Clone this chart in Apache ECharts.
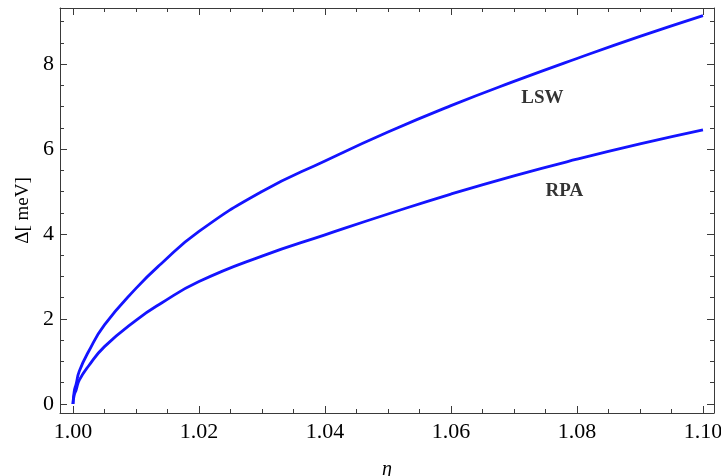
<!DOCTYPE html>
<html>
<head>
<meta charset="utf-8">
<script src="https://cdn.jsdelivr.net/npm/echarts@6/dist/echarts.min.js"></script>
<style>
html,body{margin:0;padding:0;background:#fff;}
#chart{width:721px;height:476px;}
</style>
</head>
<body>
<div id="chart"></div>
<script>
// ---- data ----
var eta = [1.0000, 1.0002, 1.0005, 1.0010, 1.0025, 1.0050, 1.0100, 1.0140, 1.0200, 1.0300, 1.0400, 1.0500, 1.0600, 1.0700, 1.0800, 1.0900, 1.1000];
var lsw = [0.00, 0.30, 0.47, 0.77, 1.24, 1.86, 2.72, 3.30, 4.06, 5.00, 5.72, 6.40, 7.02, 7.59, 8.13, 8.65, 9.14];
var rpa = [0.00, 0.21, 0.33, 0.56, 0.90, 1.35, 1.97, 2.37, 2.88, 3.48, 3.98, 4.47, 4.94, 5.37, 5.76, 6.12, 6.45];
var xMajorTicks = [1.00, 1.02, 1.04, 1.06, 1.08, 1.10];
var xMinorTicks = [1.005, 1.010, 1.015, 1.025, 1.030, 1.035, 1.045, 1.050, 1.055, 1.065, 1.070, 1.075, 1.085, 1.090, 1.095];
var yMajorTicks = [0, 2, 4, 6, 8];
var yMinorTicks = [0.5, 1, 1.5, 2.5, 3, 3.5, 4.5, 5, 5.5, 6.5, 7, 7.5, 8.5, 9];
var curveNames = ['LSW', 'RPA'];
var labelPoints = [[1.0745, 7.20, 'LSW'], [1.0780, 5.00, 'RPA']];
var xName = 'η';
var yName = 'Δ[ meV]';

// ---- chart ----
var X_MIN = 0.99794, X_MAX = 1.10175;
var Y_MIN = -0.212, Y_MAX = 9.318;
var frameColor = '#3a3a3a';
var serif = 'Liberation Serif';
var blue = '#1414ff';

function pairs(xs, ys) { return xs.map(function (x, i) { return [x, ys[i]]; }); }

function xAxisDef(pos, ticks, len, withLabels, showLine) {
  var a = {
    type: 'value', min: X_MIN, max: X_MAX, position: pos, gridIndex: 0,
    axisLine: { show: showLine, onZero: false, lineStyle: { color: frameColor, width: 1 } },
    axisTick: { show: true, inside: true, length: len, customValues: ticks, lineStyle: { color: frameColor, width: 1 } },
    axisLabel: { show: withLabels },
    splitLine: { show: false }
  };
  if (withLabels) {
    a.axisLabel = {
      show: true, customValues: ticks, margin: 8,
      fontFamily: serif, fontSize: 22, color: '#000',
      formatter: function (v) { return v.toFixed(2); }
    };
    a.name = xName;
    a.nameLocation = 'middle';
    a.nameGap = 47;
    a.nameTextStyle = { fontFamily: serif, fontStyle: 'italic', fontSize: 20, color: '#000' };
  }
  return a;
}
function yAxisDef(pos, ticks, len, withLabels, showLine) {
  var a = {
    type: 'value', min: Y_MIN, max: Y_MAX, position: pos, gridIndex: 0,
    axisLine: { show: showLine, onZero: false, lineStyle: { color: frameColor, width: 1 } },
    axisTick: { show: true, inside: true, length: len, customValues: ticks, lineStyle: { color: frameColor, width: 1 } },
    axisLabel: { show: withLabels },
    splitLine: { show: false }
  };
  if (withLabels) {
    a.axisLabel = {
      show: true, customValues: ticks, margin: 6,
      fontFamily: serif, fontSize: 22, color: '#000',
      formatter: function (v) { return String(Math.round(v)); }
    };
    a.name = yName;
    a.nameLocation = 'middle';
    a.nameGap = 27;
    a.nameTextStyle = { fontFamily: serif, fontSize: 19, color: '#000' };
  }
  return a;
}

var chart = echarts.init(document.getElementById('chart'), null, { renderer: 'canvas' });
chart.setOption({
  animation: false,
  backgroundColor: '#fff',
  grid: { left: 60, right: 7, top: 8, bottom: 63, containLabel: false, outerBoundsMode: 'none' },
  xAxis: [
    xAxisDef('bottom', xMajorTicks, 7, true, true),
    xAxisDef('bottom', xMinorTicks, 4, false, false),
    xAxisDef('top', xMajorTicks, 7, false, true),
    xAxisDef('top', xMinorTicks, 4, false, false)
  ],
  yAxis: [
    yAxisDef('left', yMajorTicks, 7, true, true),
    yAxisDef('left', yMinorTicks, 4, false, false),
    yAxisDef('right', yMajorTicks, 7, false, true),
    yAxisDef('right', yMinorTicks, 4, false, false)
  ],
  series: [
    {
      name: curveNames[0], type: 'line', xAxisIndex: 0, yAxisIndex: 0,
      data: pairs(eta, lsw), showSymbol: false, smooth: 0.5,
      lineStyle: { color: blue, width: 2.8 }, clip: true
    },
    {
      name: curveNames[1], type: 'line', xAxisIndex: 0, yAxisIndex: 0,
      data: pairs(eta, rpa), showSymbol: false, smooth: 0.5,
      lineStyle: { color: blue, width: 2.8 }, clip: true
    },
    {
      type: 'scatter', xAxisIndex: 0, yAxisIndex: 0,
      symbolSize: 0, silent: true,
      data: labelPoints.map(function (p) { return { value: [p[0], p[1]], name: p[2] }; }),
      label: {
        show: true, position: 'inside', formatter: '{b}',
        fontFamily: serif, fontWeight: 'bold', fontSize: 19, color: '#000'
      }
    }
  ]
});
</script>
</body>
</html>
